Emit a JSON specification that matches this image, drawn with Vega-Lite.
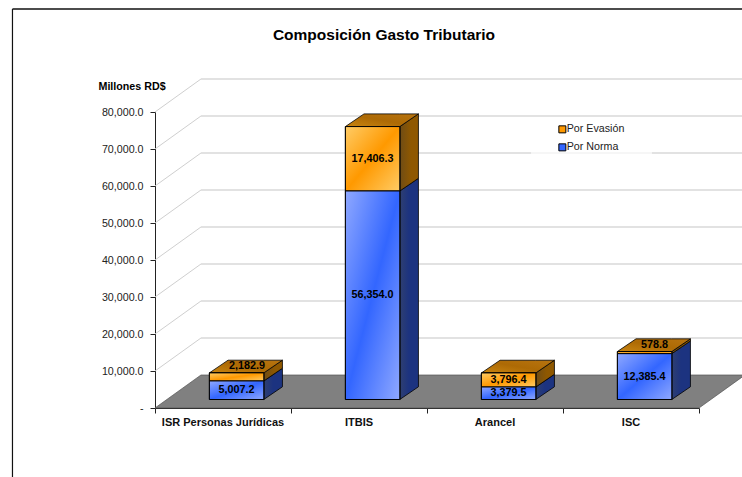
{
"$schema":"https://vega.github.io/schema/vega-lite/v6.json",
"width":544,"height":296,
"autosize":{"type":"none"},
"padding":{"left":155,"top":112,"right":43,"bottom":69},
"background":"white",
"config":{"view":{"stroke":null},"font":"Liberation Sans"},
"title":{"text":"Composición Gasto Tributario","font":"Liberation Sans","fontSize":15.5,"fontWeight":"bold","color":"#000","anchor":"middle","dx":-43,"offset":-35},
"datasets":{
 "bars":[
  {"categoria":"ISR Personas Jurídicas","orden":0,"serie":"Por Norma","valor":5007.2},
  {"categoria":"ISR Personas Jurídicas","orden":0,"serie":"Por Evasión","valor":2182.9},
  {"categoria":"ITBIS","orden":1,"serie":"Por Norma","valor":56354.0},
  {"categoria":"ITBIS","orden":1,"serie":"Por Evasión","valor":17406.3},
  {"categoria":"Arancel","orden":2,"serie":"Por Norma","valor":3379.5},
  {"categoria":"Arancel","orden":2,"serie":"Por Evasión","valor":3796.4},
  {"categoria":"ISC","orden":3,"serie":"Por Norma","valor":12385.4},
  {"categoria":"ISC","orden":3,"serie":"Por Evasión","valor":578.8}
 ],
 "grid":[{"v":0},{"v":10000},{"v":20000},{"v":30000},{"v":40000},{"v":50000},{"v":60000},{"v":70000},{"v":80000}],
 "floor":[{"x":0,"a":0,"b":0},{"x":0.338,"a":0,"b":8919},{"x":4,"a":0,"b":8919},{"x":4.338,"a":8919,"b":8919}]
},
"layer":[
 {"data":{"name":"floor"},"mark":{"type":"area","color":"#808080","stroke":"#555","strokeWidth":0.7},
  "encoding":{"x":{"field":"x","type":"quantitative","scale":{"domain":[0,4],"nice":false,"zero":false},
     "axis":{"values":[0,1,2,3,4],"tickCount":5,"labels":false,"grid":false,"title":null,"tickSize":5,"domainColor":"#222","tickColor":"#222"}},
   "y":{"field":"a","type":"quantitative","stack":null,"scale":{"domain":[0,80000],"nice":false},
     "axis":{"values":[0,10000,20000,30000,40000,50000,60000,70000,80000],"tickCount":9,"labelExpr":"datum.value==0?'-':format(datum.value,',.1f')","labelOverlap":false,"grid":false,"tickSize":5,"domainColor":"#222","tickColor":"#222","labelColor":"#222","labelFontSize":10.7,"labelFont":"Liberation Sans","labelPadding":7,
      "title":"Millones RD$","titleAngle":0,"titleAlign":"left","titleBaseline":"alphabetic","titleX":-57,"titleY":-23,"titleFontSize":10.7,"titleFont":"Liberation Sans","titleFontWeight":"bold","titleColor":"#000"}},
   "y2":{"field":"b"}}},
 {"data":{"name":"grid"},"transform":[{"filter":"datum.v>0"},{"calculate":"[0,1]","as":"c"},{"flatten":["c"]},{"calculate":"datum.c*0.338","as":"gx"},{"calculate":"datum.v+datum.c*8919","as":"gy"}],
  "mark":{"type":"line","color":"#cfcfcf","strokeWidth":1},
  "encoding":{"x":{"field":"gx","type":"quantitative"},"y":{"field":"gy","type":"quantitative"},"detail":{"field":"v"}}},
 {"data":{"name":"grid"},"transform":[{"filter":"datum.v>0"},{"calculate":"datum.v+8919","as":"gy"}],
  "mark":{"type":"rule","color":"#d9d9d9","strokeWidth":1.4},
  "encoding":{"x":{"datum":0.338},"x2":{"datum":4.338},"y":{"field":"gy","type":"quantitative"}}},
 {"data":{"values":[{"k":"borde"}]},"mark":{"type":"rule","color":"#f6f6f6","strokeWidth":2},
  "encoding":{"x":{"datum":2.765},"x2":{"datum":3.654},"y":{"datum":68919}}},
 {"data":{"values":[{"k":"marco"}]},"mark":{"type":"rule","color":"#111","strokeWidth":1.5},
  "encoding":{"x":{"datum":-1.048},"x2":{"datum":4.32},"y":{"datum":107838}}},
 {"data":{"values":[{"k":"marco"}]},"mark":{"type":"rule","color":"#111","strokeWidth":1.2},
  "encoding":{"x":{"datum":-1.048},"y":{"datum":107838},"y2":{"datum":-18700}}},
 {"data":{"name":"bars"},"transform":[{"filter":"datum.serie=='Por Norma'"},{"calculate":"datum.orden+0.5","as":"lx"}],
  "mark":{"type":"text","font":"Liberation Sans","fontSize":11,"fontWeight":"bold","color":"#111","dy":15},
  "encoding":{"x":{"field":"lx","type":"quantitative"},"y":{"datum":0},"text":{"field":"categoria"}}},
 {"data":{"name":"bars"},
  "transform":[{"calculate":"datum.serie=='Por Norma'?0:1","as":"o"},{"stack":"valor","groupby":["categoria"],"sort":[{"field":"o","order":"ascending"}],"as":["s0","s1"]},{"calculate":"datum.s0+2300","as":"y0"},{"calculate":"datum.s1+2300","as":"y1"},{"calculate":"datum.orden+0.4","as":"x0"},{"calculate":"datum.orden+0.8","as":"x1"}],
  "layer":[
   {"transform":[{"calculate":"[0,1]","as":"c"},{"flatten":["c"]},{"calculate":"datum.x1+datum.c*0.137","as":"sx"},{"calculate":"datum.y0+datum.c*3430","as":"sa"},{"calculate":"datum.y1+datum.c*3430","as":"sb"},{"filter":"datum.serie=='Por Norma'"}],
    "mark":{"type":"area","stroke":"#000","strokeWidth":0.8,"color":{"gradient":"linear","x1":0,"y1":0,"x2":1,"y2":0,"stops":[{"offset":0,"color":"#2f3f70"},{"offset":0.5,"color":"#1c3380"},{"offset":1,"color":"#1c3380"}]}},
    "encoding":{"x":{"field":"sx","type":"quantitative"},"y":{"field":"sa","type":"quantitative","stack":null},"y2":{"field":"sb"},"detail":{"field":"categoria"}}},
   {"transform":[{"calculate":"[0,1]","as":"c"},{"flatten":["c"]},{"calculate":"datum.x1+datum.c*0.137","as":"sx"},{"calculate":"datum.y0+datum.c*3430","as":"sa"},{"calculate":"datum.y1+datum.c*3430","as":"sb"},{"filter":"datum.serie=='Por Evasión'"}],
    "mark":{"type":"area","stroke":"#000","strokeWidth":0.8,"color":{"gradient":"linear","x1":0,"y1":0,"x2":1,"y2":0,"stops":[{"offset":0,"color":"#6e4c16"},{"offset":0.6,"color":"#8f5800"},{"offset":1,"color":"#8f5800"}]}},
    "encoding":{"x":{"field":"sx","type":"quantitative"},"y":{"field":"sa","type":"quantitative","stack":null},"y2":{"field":"sb"},"detail":{"field":"categoria"}}},
   {"transform":[{"filter":"datum.serie=='Por Evasión'"},{"calculate":"[0,1,2,3]","as":"c"},{"flatten":["c"]},
      {"calculate":"datum.c==0?datum.x0:datum.c==1?datum.x0+0.137:datum.c==2?datum.x1:datum.x1+0.137","as":"tx"},
      {"calculate":"datum.c==3?datum.y1+3430:datum.y1","as":"ta"},
      {"calculate":"datum.c==0?datum.y1:datum.y1+3430","as":"tb"}],
    "mark":{"type":"area","stroke":"#000","strokeWidth":0.8,"color":{"gradient":"linear","x1":0,"y1":1,"x2":1,"y2":0,"stops":[{"offset":0,"color":"#c98510"},{"offset":0.5,"color":"#ad6a05"},{"offset":1,"color":"#b87410"}]}},
    "encoding":{"x":{"field":"tx","type":"quantitative"},"y":{"field":"ta","type":"quantitative","stack":null},"y2":{"field":"tb"},"detail":{"field":"categoria"}}},
   {"mark":{"type":"bar","stroke":"#000","strokeWidth":1},
    "encoding":{"x":{"field":"x0","type":"quantitative"},"x2":{"field":"x1"},"y":{"field":"y0","type":"quantitative","stack":null},"y2":{"field":"y1"},
     "color":{"field":"serie","type":"nominal","sort":["Por Evasión","Por Norma"],
      "scale":{"domain":["Por Evasión","Por Norma"],"range":["#ff9900","#3366ff"]},
      "legend":{"title":null,"orient":"none","legendX":402,"legendY":12,"symbolType":"square","symbolSize":49,"symbolStrokeColor":"#000","symbolStrokeWidth":1,"labelFontSize":10.7,"labelFont":"Liberation Sans","labelColor":"#222","labelOffset":-1,"rowPadding":6,"padding":0}}}},
   {"transform":[{"filter":"datum.serie=='Por Evasión'"}],
    "mark":{"type":"bar","stroke":"#000","strokeWidth":1,"color":{"gradient":"linear","x1":0,"y1":0,"x2":1,"y2":1,"stops":[{"offset":0,"color":"#ffcc66"},{"offset":0.5,"color":"#ff9900"},{"offset":1,"color":"#ffcc66"}]}},
    "encoding":{"x":{"field":"x0","type":"quantitative"},"x2":{"field":"x1"},"y":{"field":"y0","type":"quantitative","stack":null},"y2":{"field":"y1"}}},
   {"transform":[{"filter":"datum.serie=='Por Norma'"}],
    "mark":{"type":"bar","stroke":"#000","strokeWidth":1,"color":{"gradient":"linear","x1":0,"y1":0,"x2":1,"y2":1,"stops":[{"offset":0,"color":"#8fa8ff"},{"offset":0.5,"color":"#3366ff"},{"offset":1,"color":"#8fa8ff"}]}},
    "encoding":{"x":{"field":"x0","type":"quantitative"},"x2":{"field":"x1"},"y":{"field":"y0","type":"quantitative","stack":null},"y2":{"field":"y1"}}},
   {"transform":[{"filter":"datum.valor>=3000"},{"calculate":"(datum.y0+datum.y1)/2","as":"my"},{"calculate":"datum.orden+0.6","as":"mx"}],
    "mark":{"type":"text","font":"Liberation Sans","fontSize":10.8,"fontWeight":"bold","color":"#000"},
    "encoding":{"x":{"field":"mx","type":"quantitative"},"y":{"field":"my","type":"quantitative"},"text":{"field":"valor","format":",.1f"}}},
   {"transform":[{"filter":"datum.valor<3000 && datum.valor>1000"},{"calculate":"(datum.y0+datum.y1)/2","as":"my"},{"calculate":"datum.orden+0.6","as":"mx"}],
    "mark":{"type":"text","font":"Liberation Sans","fontSize":10.8,"fontWeight":"bold","color":"#000","dx":10.5,"dy":-11},
    "encoding":{"x":{"field":"mx","type":"quantitative"},"y":{"field":"my","type":"quantitative"},"text":{"field":"valor","format":",.1f"}}},
   {"transform":[{"filter":"datum.valor<1000"},{"calculate":"(datum.y0+datum.y1)/2","as":"my"},{"calculate":"datum.orden+0.6","as":"mx"}],
    "mark":{"type":"text","font":"Liberation Sans","fontSize":10.8,"fontWeight":"bold","color":"#000","dx":10,"dy":-7.5},
    "encoding":{"x":{"field":"mx","type":"quantitative"},"y":{"field":"my","type":"quantitative"},"text":{"field":"valor","format":",.1f"}}}
  ]}
]
}
